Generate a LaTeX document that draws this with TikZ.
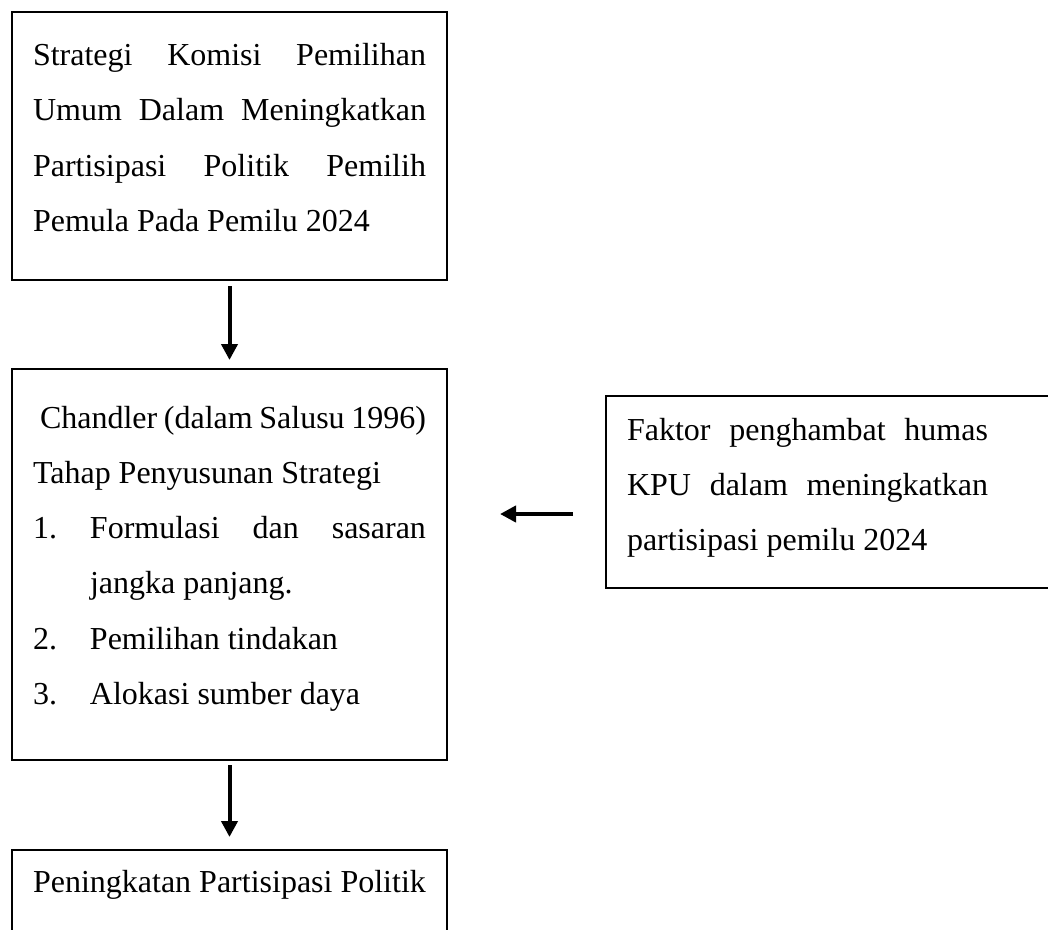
\documentclass[tikz,border=0pt]{standalone}
\usepackage{fontspec}
\setmainfont{Liberation Serif}
\usetikzlibrary{arrows.meta}
\begin{document}
\begin{tikzpicture}[x=1pt,y=-1pt,
  box/.style={draw,line width=1.9pt,rectangle,inner sep=0pt,outer sep=0pt,anchor=north west},
  txt/.style={inner sep=0pt,outer sep=0pt,anchor=base west,font=\fontsize{32}{55.5}\selectfont},
  arr/.style={line width=4pt,-{Triangle[width=16pt,length=16pt]}}]
\path[use as bounding box,clip] (0,0) rectangle (1048,929);
% boxes
\node[box,minimum width=435pt,minimum height=268pt] (b1) at (12,12) {};
\node[box,minimum width=435pt,minimum height=391pt] (b2) at (12,369) {};
\node[box,minimum width=435pt,minimum height=110pt] (b3) at (12,850) {};
\node[box,minimum width=470pt,minimum height=192pt] (b4) at (606,396) {};
% texts
\node[txt] (t1) at (33,65) {\parbox[t]{393pt}{\fontsize{32}{55.5}\selectfont
\makebox[393pt][s]{Strategi Komisi Pemilihan}\\
\makebox[393pt][s]{Umum Dalam Meningkatkan}\\
\makebox[393pt][s]{Partisipasi Politik Pemilih}\\
Pemula Pada Pemilu 2024}};
\node[txt] (t2) at (33,428) {\parbox[t]{393pt}{\fontsize{32}{55.3}\selectfont
\hspace*{7pt}\makebox[386pt][s]{Chandler (dalam Salusu 1996)}\\
Tahap Penyusunan Strategi\\
\makebox[57pt][l]{1.}\makebox[336pt][s]{Formulasi dan sasaran}\\
\hspace*{57pt}jangka panjang.\\
\makebox[57pt][l]{2.}Pemilihan tindakan\\
\makebox[57pt][l]{3.}Alokasi sumber daya}};
\node[txt] (t3) at (33,892) {Peningkatan Partisipasi Politik};
\node[txt] (t4) at (627,440) {\parbox[t]{361pt}{\fontsize{32}{55}\selectfont
\makebox[361pt][s]{Faktor penghambat humas}\\
\makebox[361pt][s]{KPU dalam meningkatkan}\\
partisipasi pemilu 2024}};
% connectors
\draw[arr] ([yshift=-6pt]b1.south) -- ([yshift=9pt]b2.north);
\draw[arr] ([yshift=-5pt]b2.south) -- ([yshift=13pt]b3.north);
\draw[arr] ([xshift=-33pt,yshift=-22pt]b4.west) -- ([xshift=-106pt,yshift=-22pt]b4.west);
\end{tikzpicture}
\end{document}
